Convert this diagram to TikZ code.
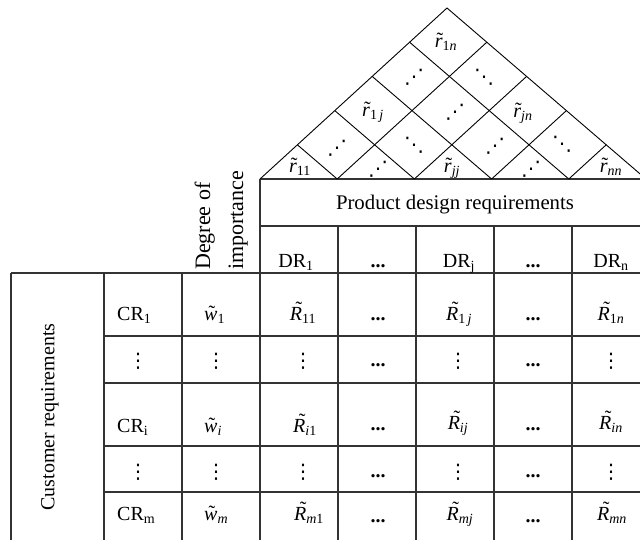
\documentclass[tikz,border=0pt]{standalone}
\usepackage{fontspec}
\setmainfont{Liberation Serif}
\newfontfamily\dejavu{DejaVu Sans}
\usetikzlibrary{calc}
\newcommand\udts{{\dejavu\fontsize{20}{20}\selectfont ⋰}}
\newcommand\ddts{{\dejavu\fontsize{20}{20}\selectfont ⋱}}
\newcommand\vdts{{\dejavu\fontsize{20}{20}\selectfont ⋮}}
\newcommand\hdts{\textbf{...}}
% letter with a tilde above: #1 = rightward shift (x2), #2 = letter
\newcommand\tl[2][0.12em]{{\setbox0\hbox{\textit{#2}}%
  \rlap{\hbox to\wd0{\hss\raisebox{\dimexpr\ht0-0.45em\relax}{\kern#1\char"02DC}\hss}}\box0}}
\begin{document}
\begin{tikzpicture}[x=1pt,y=-1pt,
  grid/.style={line width=1.3pt, draw=black!80},
  tri/.style={line width=0.9pt, draw=black},
  lbl/.style={inner sep=0pt, font=\fontsize{20}{24}\selectfont},
  big/.style={inner sep=0pt, font=\fontsize{22}{26}\selectfont},
  dts/.style={inner sep=0pt}]
\useasboundingbox (0,0) rectangle (640,539);
\clip (0,0) rectangle (640,539);
% ---------- table grid ----------
\draw[grid] (11,273) -- (650,273);
\draw[grid] (11,273) -- (11,545);
\draw[grid] (104,273) -- (104,545);
\draw[grid] (182,273) -- (182,545);
\draw[grid] (260,179) -- (650,179);
\draw[grid] (260,226) -- (650,226);
\draw[grid] (260,179) -- (260,545);
\foreach \x in {338,416,494,572,650} \draw[grid] (\x,226) -- (\x,545);
\foreach \y in {336,383,446,492} \draw[grid] (104,\y) -- (650,\y);
% ---------- roof ----------
\coordinate (A) at (260,179);
\coordinate (B) at (646,179);
\coordinate (C) at (447,8);
\draw[tri] (A) -- (C) -- (B);
\foreach \k in {1,...,4} {
  \draw[tri] ($(A)!\k/5!(B)$) -- ($(C)!\k/5!(B)$);
  \draw[tri] ($(A)!\k/5!(B)$) -- ($(A)!\k/5!(C)$);
}
% roof labels
\node[lbl, anchor=base] (r11) at (300,172) {\tl{r}\textsubscript{11}};
\node[dts] (t2) at (378,169) {\udts};
\node[lbl, anchor=base] (rjj) at (452,172) {\tl{r}\textsubscript{\textit{jj}}};
\node[dts] (t4) at (531,169) {\udts};
\node[lbl, anchor=base] (rnn) at (611,172) {\tl{r}\textsubscript{\textit{nn}}};
\node[dts] (d21) at (337,148) {\udts};
\node[dts] (d22) at (414,145) {\ddts};
\node[dts] (d23) at (495,146) {\udts};
\node[dts] (d24) at (562,144) {\ddts};
\node[lbl, anchor=base] (r1j) at (373,116) {\tl{r}\textsubscript{1\,\textit{j}}};
\node[dts] (d32) at (455,112) {\udts};
\node[lbl, anchor=base] (rjn) at (523,117) {\tl{r}\textsubscript{\textit{jn}}};
\node[dts] (d41) at (414,77) {\udts};
\node[dts] (d42) at (484,77) {\ddts};
\node[lbl, anchor=base] (r1n) at (446,47) {\tl{r}\textsubscript{1\textit{n}}};
% ---------- headers ----------
\node[lbl, anchor=base, font=\fontsize{20.8}{24}\selectfont] (prod) at (455,209) {Product design requirements};
\node[big, rotate=90, anchor=base west] (deg1) at (210,270) {Degree of};
\node[big, rotate=90, anchor=base west] (deg2) at (243,270) {importance};
\node[lbl, rotate=90] (cust) at (50,417) {Customer requirements};
\node[lbl, anchor=base] (dr1) at (296,267) {DR\textsubscript{1}};
\node[lbl, anchor=base] (drd1) at (378,267) {\hdts};
\node[lbl, anchor=base] (drj) at (459,267) {DR\textsubscript{j}};
\node[lbl, anchor=base] (drd2) at (533,267) {\hdts};
\node[lbl, anchor=base] (drn) at (611,267) {DR\textsubscript{n}};
% ---------- row 1 ----------
\node[lbl, anchor=base west] (cr1) at (117,320) {CR\textsubscript{1}};
\node[lbl, anchor=base west] (w1) at (204,320) {\tl{w}\textsubscript{1}};
\node[lbl, anchor=base] (R11) at (303,320) {\tl[0.3em]{R}\textsubscript{11}};
\node[lbl, anchor=base] (h11) at (378,320) {\hdts};
\node[lbl, anchor=base] (R1j) at (459,320) {\tl[0.3em]{R}\textsubscript{1\,\textit{j}}};
\node[lbl, anchor=base] (h12) at (533,320) {\hdts};
\node[lbl, anchor=base] (R1n) at (611,320) {\tl[0.3em]{R}\textsubscript{1\textit{n}}};
% ---------- row 2 (dots) ----------
\node[dts] (v21) at (138,361) {\vdts};
\node[dts] (v22) at (216,361) {\vdts};
\node[dts] (v23) at (303,361) {\vdts};
\node[lbl, anchor=base] (h21) at (378,366) {\hdts};
\node[dts] (v24) at (458,361) {\vdts};
\node[lbl, anchor=base] (h22) at (533,366) {\hdts};
\node[dts] (v25) at (611,361) {\vdts};
% ---------- row i ----------
\node[lbl, anchor=base west] (cri) at (117,432) {CR\textsubscript{i}};
\node[lbl, anchor=base west] (wi) at (204,432) {\tl{w}\textsubscript{\textit{i}}};
\node[lbl, anchor=base] (Ri1) at (305,432) {\tl[0.3em]{R}\textsubscript{\textit{i}1}};
\node[lbl, anchor=base] (hi1) at (378,430) {\hdts};
\node[lbl, anchor=base] (Rij) at (458,429) {\tl[0.3em]{R}\textsubscript{\textit{ij}}};
\node[lbl, anchor=base] (hi2) at (533,430) {\hdts};
\node[lbl, anchor=base] (Rin) at (611,429) {\tl[0.3em]{R}\textsubscript{\textit{in}}};
% ---------- row 4 (dots) ----------
\node[dts] (v41) at (138,472) {\vdts};
\node[dts] (v42) at (216,472) {\vdts};
\node[dts] (v43) at (303,472) {\vdts};
\node[lbl, anchor=base] (h41) at (378,477) {\hdts};
\node[dts] (v44) at (458,472) {\vdts};
\node[lbl, anchor=base] (h42) at (533,477) {\hdts};
\node[dts] (v45) at (611,472) {\vdts};
% ---------- row m ----------
\node[lbl, anchor=base west] (crm) at (117,520) {CR\textsubscript{m}};
\node[lbl, anchor=base west] (wm) at (204,520) {\tl{w}\textsubscript{\textit{m}}};
\node[lbl, anchor=base] (Rm1) at (309,520) {\tl[0.3em]{R}\textsubscript{\textit{m}1}};
\node[lbl, anchor=base] (hm1) at (378,522) {\hdts};
\node[lbl, anchor=base] (Rmj) at (460,520) {\tl[0.3em]{R}\textsubscript{\textit{mj}}};
\node[lbl, anchor=base] (hm2) at (533,522) {\hdts};
\node[lbl, anchor=base] (Rmn) at (612,520) {\tl[0.3em]{R}\textsubscript{\textit{mn}}};
\end{tikzpicture}
\end{document}
